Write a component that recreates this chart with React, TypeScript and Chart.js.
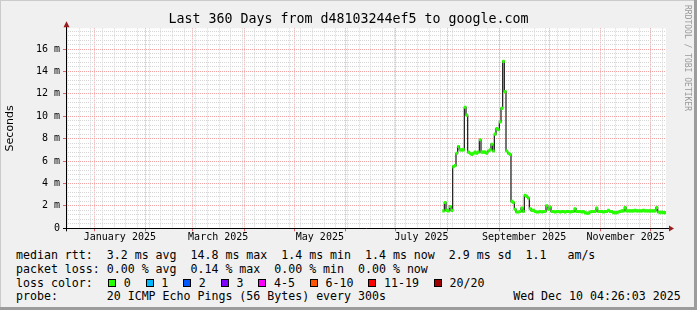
import React, { useEffect, useRef } from 'react';
import { Chart, registerables } from 'chart.js';

Chart.register(...registerables);

// ---------------- data ----------------
const chartTitle = 'Last 360 Days from d48103244ef5 to google.com';
const yAxisTitle = 'Seconds';
const rangeDays = 360; // x axis: days since Dec 15 2024 04:26
const yMax = 17.85; // ms
const yMinorStep = 0.4;
const yMajorStep = 2;
const yTickLabels = ['0', '2 m', '4 m', '6 m', '8 m', '10 m', '12 m', '14 m', '16 m'];

// month starts (Jan 2025 .. Dec 2025) in days since start
const monthStartDays = [16.82, 47.82, 75.82, 106.82, 136.82, 167.82, 197.82, 228.82, 259.82, 289.82, 320.82, 350.82];
// label centres (middle of every other month)
const xLabelDays = [32.32, 91.32, 152.32, 213.32, 274.82, 335.82];
const xTickLabels = ['January 2025', 'March 2025', 'May 2025', 'July 2025', 'September 2025', 'November 2025'];
const firstWeekDay = 0.82; // first Monday
const weekDays = 7;

// median rtt (ms), one value per day starting at day 226
const medianStartDay = 226;
const medianRtt = [
  1.55, 2.3, 1.6, 1.55, 1.95, 1.6, 5.5, 5.6, 6.7, 7.3,
  7.0, 7.0, 7.0, 10.8, 10.1, 6.8, 6.7, 6.6, 6.7, 6.8,
  6.7, 6.8, 7.9, 6.8, 6.8, 6.8, 6.7, 6.9, 7.0, 7.5,
  6.9, 8.4, 8.9, 8.8, 9.5, 10.7, 14.9, 12.2, 6.9, 6.7,
  6.6, 2.4, 2.3, 1.7, 1.45, 1.45, 1.5, 1.8, 1.5, 2.95,
  2.85, 2.7, 1.75, 1.6, 1.6, 1.5, 1.45, 1.45, 1.5, 1.45,
  1.5, 1.5, 2.0, 1.7, 1.9, 1.5, 1.5, 1.45, 1.5, 1.5,
  1.45, 1.5, 1.5, 1.45, 1.5, 1.5, 1.45, 1.5, 1.5, 1.75,
  1.5, 1.5, 1.5, 1.45, 1.5, 1.4, 1.35, 1.35, 1.45, 1.5,
  1.5, 1.5, 1.8, 1.5, 1.5, 1.5, 1.45, 1.5, 1.5, 1.6,
  1.5, 1.5, 1.4, 1.4, 1.4, 1.45, 1.5, 1.55, 1.55, 1.85,
  1.55, 1.55, 1.55, 1.55, 1.55, 1.6, 1.55, 1.55, 1.55, 1.55,
  1.6, 1.55, 1.55, 1.55, 1.55, 1.55, 1.55, 1.55, 1.85, 1.45,
  1.4, 1.45, 1.4, 1.4,
];
const bandHalf = 0.11; // half height of the loss-colour band (ms)

const lossLabels = ['0', '1', '2', '3', '4-5', '6-10', '11-19', '20/20'];
const lossColors = ['#26ff00', '#00b8ff', '#0059ff', '#7e00ff', '#ff00ff', '#ff5500', '#ff0000', '#a10000'];

const legendRtt = 'median rtt:  3.2 ms avg  14.8 ms max  1.4 ms min  1.4 ms now  2.9 ms sd  1.1   am/s';
const legendLoss = 'packet loss: 0.00 % avg  0.14 % max  0.00 % min  0.00 % now';
const legendLossColor = 'loss color:';
const probeText = 'probe:       20 ICMP Echo Pings (56 Bytes) every 300s';
const stampText = 'Wed Dec 10 04:26:03 2025';
const watermark = 'RRDTOOL / TOBI OETIKER';

// ---------------- styles ----------------
const MONO = '"DejaVu Sans Mono", monospace';
const MAJOR_GRID = '#f2a3a3';
const MINOR_GRID = '#d6d6d6';

const plotFrame = {
  id: 'plotFrame',
  beforeDraw(chart: any) {
    const { ctx, chartArea: a } = chart;
    ctx.save();
    ctx.fillStyle = '#ffffff';
    ctx.fillRect(a.left, a.top, a.right - a.left, a.bottom - a.top);
    ctx.restore();
  },
  afterDraw(chart: any) {
    const { ctx, chartArea: a } = chart;
    const yb = Math.round(a.bottom) + 0.5;
    const xl = Math.round(a.left) + 0.5;
    ctx.save();
    ctx.strokeStyle = '#000000';
    ctx.lineWidth = 1;
    ctx.beginPath();
    ctx.moveTo(a.left - 3, yb);
    ctx.lineTo(a.right + 4, yb);
    ctx.stroke();
    ctx.beginPath();
    ctx.moveTo(xl, a.bottom + 3);
    ctx.lineTo(xl, a.top - 2);
    ctx.stroke();
    ctx.fillStyle = '#9a1c1c';
    ctx.beginPath();
    ctx.moveTo(a.right + 3, yb - 3);
    ctx.lineTo(a.right + 8, yb);
    ctx.lineTo(a.right + 3, yb + 3);
    ctx.closePath();
    ctx.fill();
    ctx.beginPath();
    ctx.moveTo(xl - 3, a.top - 1);
    ctx.lineTo(xl, a.top - 7);
    ctx.lineTo(xl + 3, a.top - 1);
    ctx.closePath();
    ctx.fill();
    ctx.restore();
  },
};

export default function App() {
  const ref = useRef<HTMLCanvasElement>(null);

  useEffect(() => {
    const canvas = ref.current;
    if (!canvas) return;

    const xTicks: any[] = [];
    for (let d = firstWeekDay; d < rangeDays; d += weekDays) xTicks.push({ value: d, kind: 'minor' });
    monthStartDays.forEach((d) => xTicks.push({ value: d, kind: 'major' }));
    xLabelDays.forEach((d, i) => xTicks.push({ value: d, kind: 'label', text: xTickLabels[i] }));
    xTicks.sort((p, q) => p.value - q.value);

    const yTicks: any[] = [];
    const nMinor = Math.floor(yMax / yMinorStep + 1e-9);
    for (let i = 0; i <= nMinor; i++) {
      const v = Math.round(i * yMinorStep * 1000) / 1000;
      const k = v / yMajorStep;
      const major = Math.abs(k - Math.round(k)) < 1e-6;
      yTicks.push({ value: v, kind: major ? 'major' : 'minor', text: major ? yTickLabels[Math.round(k)] ?? '' : '' });
    }

    const line = medianRtt.map((v, i) => ({ x: medianStartDay + i + 0.5, y: v }));
    const band = medianRtt.map((v, i) => ({ x: medianStartDay + i + 0.5, y: [v - bandHalf, v + bandHalf] }));

    const gridColor = (c: any) =>
      c.tick?.kind === 'major' ? MAJOR_GRID : c.tick?.kind === 'minor' ? MINOR_GRID : 'rgba(0,0,0,0)';

    const chart = new Chart(canvas, {
      type: 'bar',
      data: {
        datasets: [
          {
            type: 'bar',
            data: band as any,
            backgroundColor: lossColors[0],
            borderWidth: 0,
            barThickness: 1.8,
            order: 0,
          } as any,
          {
            type: 'line',
            data: line as any,
            borderColor: '#1a1a1a',
            borderWidth: 1.2,
            pointRadius: 0,
            stepped: 'middle',
            fill: false,
            order: 1,
          } as any,
        ],
      },
      options: {
        animation: false,
        responsive: false,
        maintainAspectRatio: false,
        events: [],
        layout: { padding: { left: 0, top: 28.3, right: 31, bottom: 0 } },
        plugins: { legend: { display: false }, tooltip: { enabled: false }, title: { display: false } },
        scales: {
          x: {
            type: 'linear',
            min: 0,
            max: rangeDays,
            offset: false,
            afterBuildTicks: (s: any) => {
              s.ticks = xTicks.map((t) => ({ ...t }));
            },
            afterFit: (s: any) => {
              s.height = 16.7;
            },
            grid: {
              offset: false,
              color: gridColor,
              lineWidth: 1,
              drawTicks: true,
              tickLength: 3,
              tickColor: (c: any) => (c.tick?.kind === 'major' ? '#e06060' : 'rgba(0,0,0,0)'),
            },
            border: { display: false, dash: [1, 1] },
            ticks: {
              autoSkip: false,
              maxRotation: 0,
              minRotation: 0,
              padding: 0,
              color: '#000',
              font: { family: 'DejaVu Sans Mono', size: 10 },
              callback: (_v: any, i: number, ticks: any[]) => (ticks[i]?.kind === 'label' ? ticks[i].text : ''),
            },
          },
          y: {
            type: 'linear',
            min: 0,
            max: yMax,
            afterBuildTicks: (s: any) => {
              s.ticks = yTicks.map((t) => ({ ...t }));
            },
            afterFit: (s: any) => {
              s.width = 66;
            },
            grid: {
              color: gridColor,
              lineWidth: 1,
              drawTicks: true,
              tickLength: 3,
              tickColor: (c: any) => (c.tick?.kind === 'major' ? '#e06060' : 'rgba(0,0,0,0)'),
            },
            border: { display: false, dash: [1, 1] },
            ticks: {
              autoSkip: false,
              padding: 3,
              color: '#000',
              font: { family: 'DejaVu Sans Mono', size: 10 },
              callback: (_v: any, i: number, ticks: any[]) => ticks[i]?.text ?? '',
            },
            title: {
              display: true,
              text: yAxisTitle,
              color: '#000',
              font: { family: 'DejaVu Sans', size: 11 },
              padding: { top: 4, bottom: 0 },
            },
          },
        },
      },
      plugins: [plotFrame],
    } as any);

    return () => chart.destroy();
  }, []);

  const rowStyle: React.CSSProperties = {
    position: 'absolute',
    left: 16,
    whiteSpace: 'pre',
    fontFamily: MONO,
    fontSize: 11.6,
    lineHeight: '14px',
    color: '#000',
  };

  return (
    <div
      style={{
        position: 'absolute',
        left: 0,
        top: 0,
        width: 697,
        height: 310,
        background: '#f0f0f0',
        overflow: 'hidden',
      }}
    >
      <div style={{ position: 'absolute', left: 0, top: 0, width: 697, height: 1, background: '#cbcbcb' }} />
      <div style={{ position: 'absolute', left: 0, top: 0, width: 1, height: 310, background: '#cbcbcb' }} />
      <div style={{ position: 'absolute', right: 0, top: 0, width: 3, height: 310, background: '#9c9c9c' }} />
      <div style={{ position: 'absolute', left: 0, bottom: 0, width: 697, height: 3, background: '#9c9c9c' }} />

      <canvas ref={ref} width={697} height={245} style={{ position: 'absolute', left: 0, top: 0, width: 697, height: 245 }} />

      <div
        style={{
          position: 'absolute',
          left: 0,
          top: 11,
          width: 697,
          textAlign: 'center',
          fontFamily: MONO,
          fontSize: 13.3,
          lineHeight: '16px',
          whiteSpace: 'pre',
          color: '#000',
        }}
      >
        {chartTitle}
      </div>

      <div
        style={{
          position: 'absolute',
          left: 683,
          top: 5,
          writingMode: 'vertical-rl',
          fontFamily: MONO,
          fontSize: 8,
          lineHeight: '9px',
          color: '#999999',
          whiteSpace: 'pre',
        }}
      >
        {watermark}
      </div>

      <div style={{ ...rowStyle, top: 247.5 }}>{legendRtt}</div>
      <div style={{ ...rowStyle, top: 261.5 }}>{legendLoss}</div>
      <div style={{ ...rowStyle, top: 275.5, display: 'flex', alignItems: 'center' }}>
        <span>{legendLossColor}</span>
        {lossLabels.map((lab, i) => (
          <React.Fragment key={lab}>
            <span
              style={{
                display: 'inline-block',
                width: 8,
                height: 8,
                boxSizing: 'border-box',
                border: '1px solid #000',
                background: lossColors[i],
                marginLeft: i === 0 ? 15.3 : 15,
                marginRight: 7.6,
              }}
            />
            <span>{lab}</span>
          </React.Fragment>
        ))}
      </div>
      <div style={{ ...rowStyle, top: 289.2 }}>{probeText}</div>
      <div style={{ ...rowStyle, left: 'auto', right: 16.3, top: 289.2 }}>{stampText}</div>
    </div>
  );
}
